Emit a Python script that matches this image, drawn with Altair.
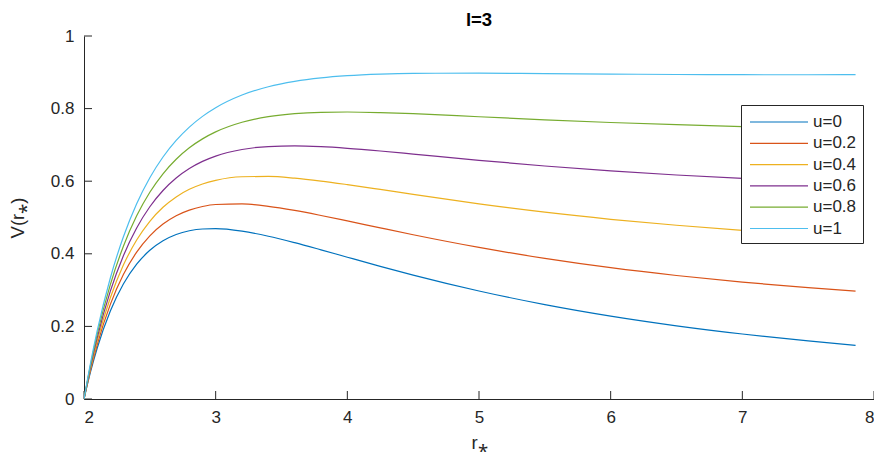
import altair as alt
import pandas as pd

r_vals = [2, 2.05, 2.1, 2.2, 2.3, 2.4, 2.5, 2.6, 2.7, 2.8, 2.9, 3.0, 3.2, 3.4, 3.6, 3.8,
          4.0, 4.25, 4.5, 5.0, 5.5, 6.0, 6.5, 7.0, 7.5, 7.86]

v_u0 = [0, .0753, .1399, .2425, .3173, .3713, .4096, .4359, .4531, .4634, .4683, .4691, .4623,
        .4484, .4306, .4109, .3906, .3655, .3414, .2976, .2601, .2284, .2017, .1791, .1599, .1479]
v_u02 = [0, .0802, .1494, .2607, .3434, .4046, .4496, .4821, .5050, .5205, .5304, .5358, .5373,
         .5308, .5195, .5056, .4906, .4714, .4525, .4176, .3874, .3617, .3402, .3220, .3066, .2970]
v_u04 = [0, .0851, .1590, .2789, .3695, .4380, .4896, .5282, .5568, .5777, .5924, .6024, .6123,
         .6131, .6084, .6004, .5906, .5773, .5636, .5376, .5146, .4951, .4786, .4648, .4532, .4461]
v_u06 = [0, .0899, .1685, .2971, .3956, .4713, .5296, .5744, .6087, .6348, .6545, .6691, .6873,
         .6955, .6973, .6951, .6906, .6832, .6747, .6576, .6419, .6284, .6171, .6077, .5999, .5952]
v_u08 = [0, .0948, .1780, .3152, .4216, .5046, .5696, .6205, .6605, .6920, .7166, .7358, .7623,
         .7778, .7862, .7898, .7906, .7890, .7859, .7776, .7692, .7617, .7556, .7505, .7466, .7443]
v_u1 = [0, .0997, .1875, .3334, .4477, .5380, .6096, .6667, .7124, .7491, .7786, .8024, .8373,
        .8602, .8750, .8846, .8906, .8949, .8970, .8976, .8965, .8951, .8940, .8934, .8932, .8935]

series_names = ["u=0", "u=0.2", "u=0.4", "u=0.6", "u=0.8", "u=1"]
series_values = [v_u0, v_u02, v_u04, v_u06, v_u08, v_u1]
colors = ["#0072BD", "#D95319", "#EDB120", "#7E2F8E", "#77AC30", "#4DBEEE"]

x_ticks = [2, 3, 4, 5, 6, 7, 8]
y_ticks = [0, 0.2, 0.4, 0.6, 0.8, 1]

rows = []
for name, vals in zip(series_names, series_values):
    for i, (r, v) in enumerate(zip(r_vals, vals)):
        rows.append({"r": r, "V": v, "series": name, "order": i})
df = pd.DataFrame(rows)

W, H = 790, 363
AX = "#262626"
FONT = "Liberation Sans"

xscale = alt.Scale(domain=[2, 8], nice=False, zero=False)
yscale = alt.Scale(domain=[0, 1], nice=False)

lines = alt.Chart(df).mark_line(strokeWidth=1.2, interpolate="monotone", clip=True).encode(
    x=alt.X("r:Q", scale=xscale,
            axis=alt.Axis(values=x_ticks, format="d", title="r⁎", tickSize=0,
                          labelPadding=10, titlePadding=8, domainColor=AX,
                          labelColor=AX, titleColor=AX, labelFontSize=17,
                          titleFontSize=18.5, titleFontWeight="normal", labelFont=FONT,
                          titleFont=FONT, grid=False)),
    y=alt.Y("V:Q", scale=yscale,
            axis=alt.Axis(values=y_ticks, format="~g", title="V(r⁎)", tickSize=0,
                          labelPadding=10, titlePadding=23, domainColor=AX,
                          labelColor=AX, titleColor=AX, labelFontSize=17,
                          titleFontSize=18.5, titleFontWeight="normal", labelFont=FONT,
                          titleFont=FONT, grid=False)),
    color=alt.Color("series:N", sort=series_names,
                    scale=alt.Scale(domain=series_names, range=colors),
                    legend=alt.Legend(title=None, orient="none", legendX=657, legendY=69,
                                      direction="vertical", symbolType="M-0.8,0H5",
                                      symbolSize=400, symbolStrokeWidth=1.2,
                                      labelFontSize=17, labelFont=FONT, labelColor=AX,
                                      strokeColor=AX, fillColor="white", padding=6,
                                      rowPadding=2.3, labelOffset=44, cornerRadius=0)),
    order="order:Q",
)

xt_df = pd.DataFrame({"t": x_ticks})
yt_df = pd.DataFrame({"t": y_ticks})

xticks = alt.Chart(xt_df).mark_rule(color=AX, strokeWidth=1).encode(
    x=alt.X("t:Q", scale=xscale),
    y=alt.value(H), y2=alt.value(H - 8),
)
yticks = alt.Chart(yt_df).mark_rule(color=AX, strokeWidth=1).encode(
    y=alt.Y("t:Q", scale=yscale),
    x=alt.value(0), x2=alt.value(8),
)

chart = alt.layer(xticks, yticks, lines).properties(
    width=W, height=H,
    title=alt.TitleParams("l=3", fontSize=18.5, fontWeight="bold", font=FONT, color="black",
                          anchor="middle", offset=-2),
    autosize=alt.AutoSizeParams(type="none"),
    padding={"left": 76, "top": 28, "right": 0, "bottom": 53},
).configure_view(stroke=None).configure_axis(domainWidth=1)

chart.save("out.html", embed_options={"renderer": "svg", "actions": False})
